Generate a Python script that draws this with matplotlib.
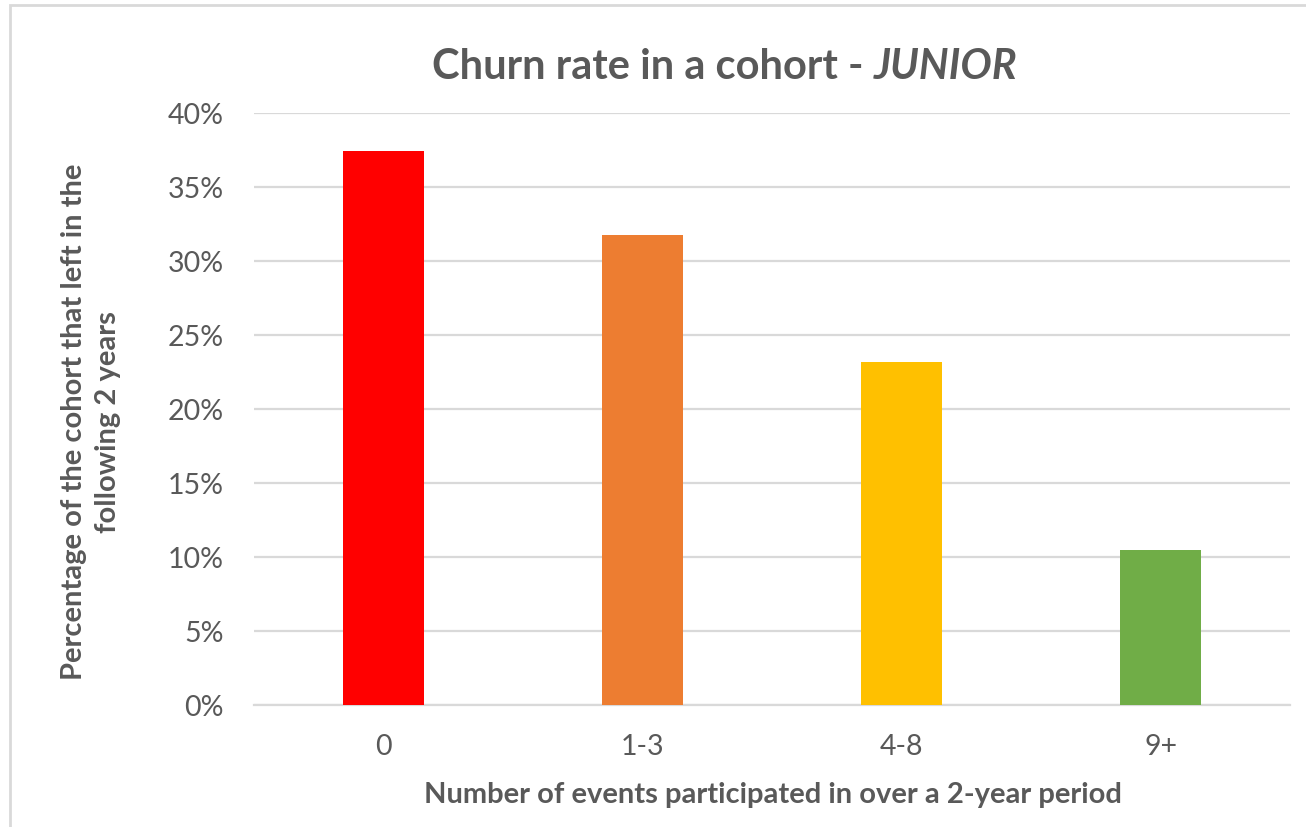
import matplotlib.pyplot as plt
from matplotlib.patches import Rectangle
from matplotlib.ticker import FuncFormatter, MultipleLocator

# churn data per participation bucket
categories = ['0', '1-3', '4-8', '9+']
churn_pct = [37.45, 31.78, 23.16, 10.5]
bar_colors = ['#FF0000', '#ED7D31', '#FFC000', '#70AD47']

title_main = 'Churn rate in a cohort - '
title_tag = 'JUNIOR'
xlabel = 'Number of events participated in over a 2-year period'
ylabel = 'Percentage of the cohort that left in the\nfollowing 2 years'

text_grey = '#595959'
plt.rcParams['font.family'] = ['Lato', 'DejaVu Sans']

fig = plt.figure(figsize=(13.06, 8.28), dpi=100)
W, H = 1306, 828
ax = fig.add_axes([254 / W, 1 - 706 / H, (1290 - 254) / W, (706 - 114) / H])

x = range(len(categories))
ax.bar(x, churn_pct, width=0.315, color=bar_colors, zorder=3)

ax.set_xlim(-0.5, len(categories) - 0.5)
ax.set_ylim(0, 40)
ax.yaxis.set_major_locator(MultipleLocator(5))
ax.yaxis.set_major_formatter(FuncFormatter(lambda v, p: '%d%%' % v))
ax.grid(axis='y', color='#D9D9D9', linewidth=1.6, zorder=0)
ax.set_xticks(list(x))
ax.set_xticklabels(categories)

for s in ['top', 'right', 'left']:
    ax.spines[s].set_visible(False)
ax.spines['bottom'].set_color('#D9D9D9')
ax.spines['bottom'].set_linewidth(1.6)
ax.tick_params(axis='both', length=0, labelsize=20.5, colors=text_grey)
ax.tick_params(axis='x', pad=20)
ax.tick_params(axis='y', pad=22)

# axis titles placed in figure pixels
fig.text(773 / W, 1 - 795 / H, xlabel, fontsize=21, fontweight='bold',
         color=text_grey, ha='center', va='center')
fig.text(91 / W, 1 - 422 / H, ylabel, fontsize=21, fontweight='bold',
         color=text_grey, ha='center', va='center', rotation=90,
         linespacing=1.34, multialignment='center')

# title in two pieces so the cohort name can be italic
t1 = fig.text(432 / W, 1 - 79 / H, title_main, fontsize=30, fontweight='bold',
              color=text_grey, ha='left', va='baseline')
ax.annotate(title_tag, xy=(1, 0), xycoords=t1, va='bottom', ha='left',
            fontsize=30, fontweight='bold', fontstyle='italic', color=text_grey,
            annotation_clip=False)

# chart area frame
fig.patches.append(Rectangle((9.5 / W, -0.1), 1.2, 1 - 6 / H + 0.1, transform=fig.transFigure,
                             fill=False, edgecolor='#D9D9D9', linewidth=2))

fig.savefig('out.png', dpi=100)
